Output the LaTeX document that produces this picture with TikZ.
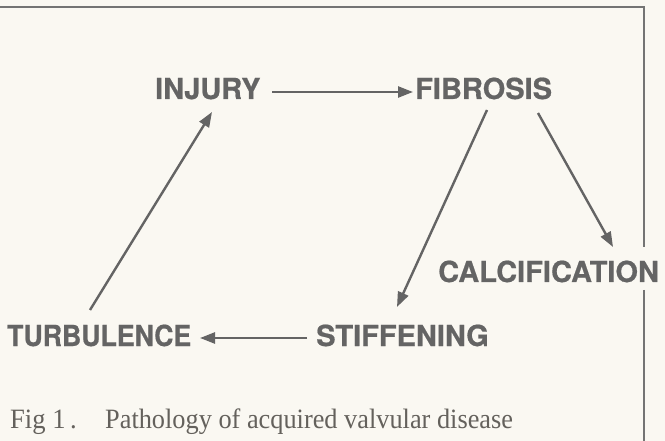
\documentclass[tikz,border=0pt]{standalone}
\usepackage{fontspec}
\setmainfont{Liberation Serif}
\newfontfamily\labelfont[UprightFeatures={FakeBold=0.6},BoldFeatures={FakeBold=0.6}]{TeX Gyre Heros}
\usetikzlibrary{arrows.meta,calc}
\definecolor{paper}{RGB}{250,248,242}
\definecolor{ink}{RGB}{100,100,100}
\definecolor{capink}{RGB}{100,97,92}
\tikzset{
  stage/.style={inner sep=0pt, anchor=base west, text=ink,
    font=\labelfont\bfseries\fontsize{29}{31}\selectfont},
  flow/.style={draw=ink, line width=2.4pt,
    -{Triangle[length=15pt,width=11pt]}},
  frame/.style={draw=ink!90, line width=1.6pt},
  caption/.style={inner sep=0pt, anchor=base west, text=capink,
    font=\fontsize{28}{30}\selectfont}
}
\begin{document}
\begin{tikzpicture}[x=1pt,y=-1pt]
\useasboundingbox (0,0) rectangle (665,441);
\fill[paper] (0,0) rectangle (665,441);
% frame
\draw[frame] (0,7) -- (644,7) -- (644,247);
\draw[frame] (644,290) -- (644,441);
% stages
\node[stage] (INJ) at (155,99) {INJURY};
\node[stage] (FIB) at (415,99) {FIBROSIS};
\node[stage] (CAL) at (438,282) {CALCIFICATION};
\node[stage] (STF) at (316,346) {STIFFENING};
\node[stage] (TUR) at (7,346) {\scalebox{0.92}[1]{TURBULENCE}};
% connectors
\draw[flow] ($(INJ.base west)+(117,-7)$) -- ($(FIB.base west)+(-2,-7)$);
\draw[flow] ($(FIB.base west)+(123,14)$) -- ($(CAL.base west)+(175,-35)$);
\draw[flow] ($(FIB.base west)+(72,11)$) -- ($(STF.base west)+(81,-39)$);
\draw[flow] ($(STF.base west)+(-9,-8)$) -- ($(TUR.base west)+(193,-8)$);
\draw[flow] ($(TUR.base west)+(83,-36)$) -- ($(INJ.base west)+(57,13)$);
% caption
\node[caption] (figno) at (10,428) {\scalebox{0.95}[1]{Fig 1\,.}};
\node[caption] (captext) at (105,428) {\scalebox{0.94}[1]{Pathology of acquired valvular disease}};
\end{tikzpicture}
\end{document}
